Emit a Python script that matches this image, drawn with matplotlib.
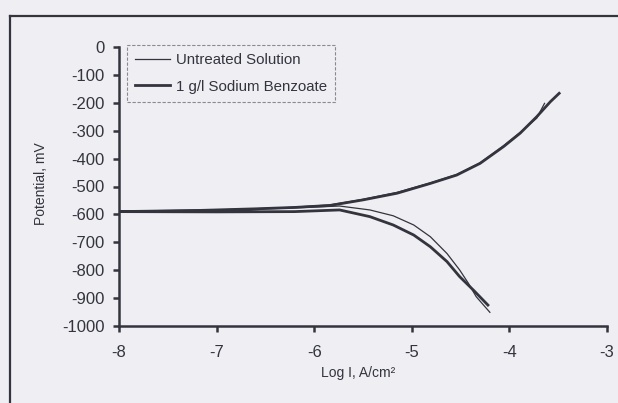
import matplotlib
matplotlib.use("Agg")
import matplotlib.pyplot as plt
from matplotlib.lines import Line2D

# ---- data ----
series_names = ["Untreated Solution", "1 g/l Sodium Benzoate"]

untreated_logi = [-4.20, -4.34, -4.42, -4.51, -4.64, -4.81, -4.98, -5.19, -5.43, -5.74,
                  -6.3, -7.0, -8.0, -7.0, -6.3, -5.84, -5.50, -5.15, -4.81, -4.54,
                  -4.30, -4.06, -3.89, -3.72, -3.64]
untreated_mv = [-951, -895, -847, -799, -740, -680, -638, -605, -584, -570,
                -578, -585, -588, -584, -576, -566, -546, -521, -487, -457,
                -415, -354, -306, -255, -202]

benzoate_logi = [-4.22, -4.37, -4.51, -4.64, -4.81, -4.98, -5.19, -5.43, -5.74, -6.2,
                 -7.0, -8.0, -7.2, -6.6, -6.2, -5.84, -5.50, -5.15, -4.81, -4.54,
                 -4.30, -4.06, -3.89, -3.72, -3.58, -3.49]
benzoate_mv = [-925, -871, -823, -769, -716, -674, -638, -608, -584, -590,
               -591, -590, -586, -580, -575, -568, -548, -524, -489, -459,
               -417, -357, -309, -250, -196, -166]

x_ticks = [-8, -7, -6, -5, -4, -3]
y_ticks = [0, -100, -200, -300, -400, -500, -600, -700, -800, -900, -1000]

# ---- style ----
BG = "#eeeef3"
INK = "#34343f"
W, H = 618, 403

plt.rcParams["font.family"] = ["Liberation Sans", "DejaVu Sans"]

fig = plt.figure(figsize=(W / 100, H / 100), dpi=100, facecolor=BG)
ax = fig.add_axes([119 / W, 1 - 326 / H, (607 - 119) / W, (326 - 47) / H])
ax.set_facecolor("none")

ax.plot(untreated_logi, untreated_mv, color=INK, lw=0.9, label=series_names[0])
ax.plot(benzoate_logi, benzoate_mv, color=INK, lw=2.0, label=series_names[1])

ax.set_xlim(-8, -3)
ax.set_ylim(-1000, 0)
ax.set_xticks(x_ticks)
ax.set_yticks(y_ticks)
ax.set_xticklabels([str(v) for v in x_ticks])
ax.set_yticklabels([str(v) for v in y_ticks])

for s in ["top", "right"]:
    ax.spines[s].set_visible(False)
for s in ["left", "bottom"]:
    ax.spines[s].set_linewidth(1.8)
    ax.spines[s].set_color(INK)
    ax.spines[s].set_capstyle("projecting")

ax.tick_params(axis="both", direction="out", length=4.5, width=1.8, color=INK,
               labelsize=12, labelcolor=INK)
ax.tick_params(axis="x", pad=9)
ax.tick_params(axis="y", pad=6)

ax.set_ylabel("Potential, mV", fontsize=10, color=INK)
ax.set_xlabel("Log I, A/cm²", fontsize=10, color=INK)
ax.yaxis.set_label_coords(-0.146, 0.51)
ax.xaxis.set_label_coords(0.489, -0.143)

leg = ax.legend(loc="upper left", bbox_to_anchor=(0.0164, 1.0072), borderaxespad=0,
                fontsize=10.8, handlelength=2.3, handletextpad=0.4, borderpad=0.55,
                labelspacing=0.83, fancybox=False, frameon=True)
fr = leg.get_frame()
fr.set_facecolor(BG)
fr.set_edgecolor("#8a8a90")
fr.set_linewidth(0.8)
fr.set_linestyle((0, (3, 1.5)))
fr.set_alpha(1)
for t in leg.get_texts():
    t.set_color(INK)

# chart-area border (visible top and left edges)
fig.add_artist(Line2D([10 / W, 1], [1 - 15.5 / H, 1 - 15.5 / H], color=INK, lw=1.6,
                      transform=fig.transFigure))
fig.add_artist(Line2D([10 / W, 10 / W], [0, 1 - 15.5 / H], color=INK, lw=1.6,
                      transform=fig.transFigure))

fig.savefig("out.png", dpi=100, facecolor=BG)
